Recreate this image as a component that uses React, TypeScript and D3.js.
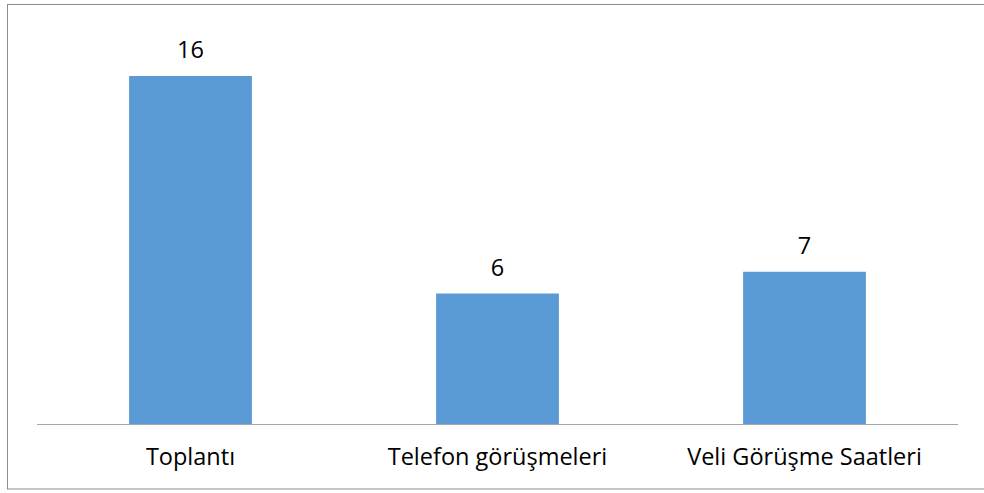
import React from 'react';
import { scaleBand, scaleLinear } from 'd3';

const categories = ['Toplantı', 'Telefon görüşmeleri', 'Veli Görüşme Saatleri'];
const values = [16, 6, 7];

const width = 984;
const height = 493;
const margin = { top: 76, right: 26, bottom: 69, left: 37 };

export default function App() {
  const x = scaleBand<string>()
    .domain(categories)
    .range([margin.left, width - margin.right])
    .paddingInner(0.6)
    .paddingOuter(0.3);

  const y = scaleLinear()
    .domain([0, 16])
    .range([height - margin.bottom, margin.top]);

  const base = y(0);
  const font = '"Open Sans", "Noto Sans", sans-serif';

  return (
    <svg
      width={width}
      height={height}
      style={{ position: 'absolute', left: 0, top: 0 }}
      fontFamily={font}
    >
      <rect x={0} y={0} width={width} height={height} fill='#fff' />
      <rect x={7.5} y={4.5} width={990} height={484.5} fill='none' stroke='#8c8c8c' strokeWidth={1} />
      {categories.map((c, i) => (
        <g key={c}>
          <rect
            x={x(c)}
            y={y(values[i])}
            width={x.bandwidth()}
            height={base - y(values[i])}
            fill='#5B9BD5'
          />
          <text
            x={(x(c) as number) + x.bandwidth() / 2}
            y={y(values[i]) - 18}
            textAnchor='middle'
            fontSize={23.5}
            fill='#000'
          >
            {values[i]}
          </text>
          <text
            x={(x(c) as number) + x.bandwidth() / 2}
            y={base + 41}
            textAnchor='middle'
            fontSize={23.5}
            fill='#000'
          >
            {c}
          </text>
        </g>
      ))}
      <line x1={margin.left} x2={width - margin.right} y1={base + 0.5} y2={base + 0.5} stroke='#a6a6a6' strokeWidth={1} />
    </svg>
  );
}
